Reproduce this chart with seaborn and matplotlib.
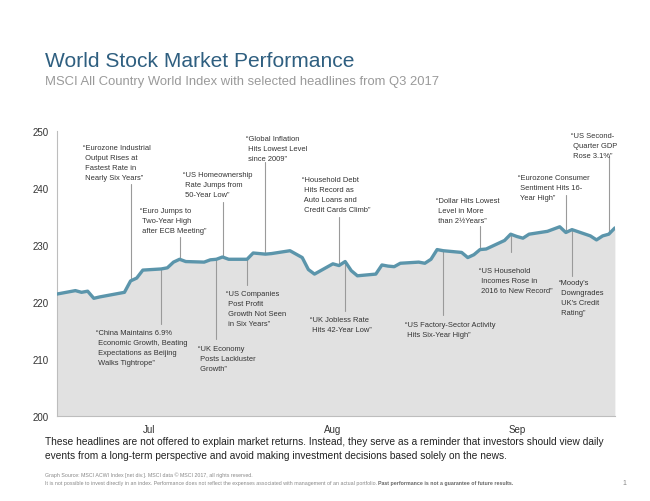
import matplotlib
matplotlib.use('Agg')
import matplotlib.pyplot as plt
import numpy as np
import pandas as pd
import seaborn as sns

# MSCI ACWI index level, Q3 2017
dates = ["2017-06-30", "2017-07-03", "2017-07-04", "2017-07-05", "2017-07-06", "2017-07-07",
         "2017-07-10", "2017-07-11", "2017-07-12", "2017-07-13", "2017-07-14",
         "2017-07-17", "2017-07-18", "2017-07-19", "2017-07-20", "2017-07-21",
         "2017-07-24", "2017-07-25", "2017-07-26", "2017-07-27", "2017-07-28",
         "2017-07-31", "2017-08-01", "2017-08-02", "2017-08-03", "2017-08-04",
         "2017-08-07", "2017-08-08", "2017-08-09", "2017-08-10", "2017-08-11",
         "2017-08-14", "2017-08-15", "2017-08-16", "2017-08-17", "2017-08-18",
         "2017-08-21", "2017-08-22", "2017-08-23", "2017-08-24", "2017-08-25",
         "2017-08-28", "2017-08-29", "2017-08-30", "2017-08-31", "2017-09-01",
         "2017-09-04", "2017-09-05", "2017-09-06", "2017-09-07", "2017-09-08",
         "2017-09-11", "2017-09-12", "2017-09-13", "2017-09-14", "2017-09-15",
         "2017-09-18", "2017-09-19", "2017-09-20", "2017-09-21", "2017-09-22",
         "2017-09-25", "2017-09-26", "2017-09-27", "2017-09-28", "2017-09-29"]
index_level = [221.4, 222.0, 221.7, 221.9, 220.65, 220.9,
               221.5, 221.7, 223.7, 224.2, 225.6,
               225.8, 226.0, 227.0, 227.5, 227.1,
               227.0, 227.4, 227.5, 227.9, 227.5,
               227.5, 228.6, 228.5, 228.4, 228.5,
               229.0, 228.4, 227.8, 225.7, 224.9,
               226.7, 226.4, 227.1, 225.5, 224.6,
               224.9, 226.5, 226.3, 226.2, 226.8,
               227.0, 226.8, 227.5, 229.2, 229.0,
               228.7, 227.8, 228.3, 229.2, 229.3,
               230.8, 231.9, 231.5, 231.2, 231.9,
               232.4, 232.8, 233.2, 232.2, 232.7,
               231.6, 230.9, 231.6, 231.9, 233.0]

# headlines: text, date of the event, where the leader line stops,
# text left offset (days from event), text top (index units)
headlines = [
    ("\u201cEurozone Industrial\n Output Rises at\n Fastest Rate in\n Nearly Six Years\u201d",
     "2017-07-12", 240.7, -7.8, 247.7),
    ("\u201cEuro Jumps to\n Two-Year High\n after ECB Meeting\u201d",
     "2017-07-20", 231.4, -6.5, 236.7),
    ("\u201cUS Homeownership\n Rate Jumps from\n 50-Year Low\u201d",
     "2017-07-27", 237.5, -6.4, 243.0),
    ("\u201cGlobal Inflation\n Hits Lowest Level\n since 2009\u201d",
     "2017-08-03", 244.6, -3.2, 249.3),
    ("\u201cHousehold Debt\n Hits Record as\n Auto Loans and\n Credit Cards Climb\u201d",
     "2017-08-15", 234.9, -6.0, 242.1),
    ("\u201cDollar Hits Lowest\n Level in More\n than 2\u00bdYears\u201d",
     "2017-09-07", 233.3, -7.2, 238.4),
    ("\u201cEurozone Consumer\n Sentiment Hits 16-\n Year High\u201d",
     "2017-09-21", 238.8, -7.8, 242.5),
    ("\u201cUS Second-\n Quarter GDP\n Rose 3.1%\u201d",
     "2017-09-28", 245.6, -6.1, 249.8),
    ("\u201cChina Maintains 6.9%\n Economic Growth, Beating\n Expectations as Beijing\n Walks Tightrope\u201d",
     "2017-07-17", 216.1, -10.6, 215.3),
    ("\u201cUK Economy\n Posts Lackluster\n Growth\u201d",
     "2017-07-26", 213.5, -3.0, 212.5),
    ("\u201cUS Companies\n Post Profit\n Growth Not Seen\n in Six Years\u201d",
     "2017-07-31", 223.0, -3.4, 222.1),
    ("\u201cUK Jobless Rate\n Hits 42-Year Low\u201d",
     "2017-08-16", 218.4, -5.7, 217.5),
    ("\u201cUS Factory-Sector Activity\n Hits Six-Year High\u201d",
     "2017-09-01", 217.7, -6.2, 216.7),
    ("\u201cUS Household\n Incomes Rose in\n 2016 to New Record\u201d",
     "2017-09-12", 228.8, -5.2, 226.1),
    ("\u201cMoody's\n Downgrades\n UK's Credit\n Rating\u201d",
     "2017-09-22", 224.6, -2.1, 224.0),
]

month_ticks = ["2017-07-15", "2017-08-14", "2017-09-13"]
month_labels = ["Jul", "Aug", "Sep"]
y_ticks = [200, 210, 220, 230, 240, 250]

sns.set_theme(style="white")
plt.rcParams['font.family'] = ['Liberation Sans', 'DejaVu Sans']

df = pd.DataFrame({"date": pd.to_datetime(dates), "level": index_level})

fig = plt.figure(figsize=(6.5, 5.02), dpi=100)
ax = fig.add_axes([0.0877, 0.1693, 0.8583, 0.5677])

ax.fill_between(df["date"], 200, df["level"], color="#e1e1e1", lw=0, zorder=1)
sns.lineplot(data=df, x="date", y="level", ax=ax, color="#5b95ab", lw=2.4, zorder=4)

lookup = dict(zip(dates, index_level))
for text, day, stop, dx, ty in headlines:
    d = pd.Timestamp(day)
    ax.plot([d, d], [lookup[day], stop], color="#9a9a9a", lw=0.8, zorder=2)
    ax.text(d + pd.Timedelta(days=dx), ty, text, fontsize=5.4, color="#333333",
            va="top", ha="left", linespacing=1.6, zorder=5)

ax.set_xlim(pd.Timestamp("2017-06-30"), pd.Timestamp("2017-09-29"))
ax.set_ylim(200, 250)
ax.set_yticks(y_ticks)
ax.set_xticks(pd.to_datetime(month_ticks))
ax.set_xticklabels(month_labels)
ax.tick_params(axis="both", length=0, labelsize=7, colors="#333333", pad=6)
ax.set_xlabel("")
ax.set_ylabel("")
for side in ["top", "right"]:
    ax.spines[side].set_visible(False)
for side in ["left", "bottom"]:
    ax.spines[side].set_color("#bdbdbd")
    ax.spines[side].set_linewidth(0.8)

fig.text(0.069, 0.866, "World Stock Market Performance", fontsize=15.1, color="#2f5f80")
fig.text(0.069, 0.831, "MSCI All Country World Index with selected headlines from Q3 2017",
         fontsize=9.4, color="#9a9a9a")

fig.text(0.069, 0.130,
         "These headlines are not offered to explain market returns. Instead, they serve as a reminder that investors should view daily\n"
         "events from a long-term perspective and avoid making investment decisions based solely on the news.",
         fontsize=7.3, color="#222222", linespacing=1.5, va="top")

fig.text(0.069, 0.049, "Graph Source: MSCI ACWI Index [net div.]. MSCI data \u00a9 MSCI 2017, all rights reserved.",
         fontsize=3.8, color="#888888")
t = fig.text(0.069, 0.033,
             "It is not possible to invest directly in an index. Performance does not reflect the expenses "
             "associated with management of an actual portfolio. ",
             fontsize=3.8, color="#888888")
fig.canvas.draw()
bb = t.get_window_extent().transformed(fig.transFigure.inverted())
fig.text(bb.x1, 0.033, "Past performance is not a guarantee of future results.",
         fontsize=3.8, color="#666666", fontweight="bold")
fig.text(0.957, 0.033, "1", fontsize=5, color="#888888")

fig.savefig("out.png", dpi=100)
